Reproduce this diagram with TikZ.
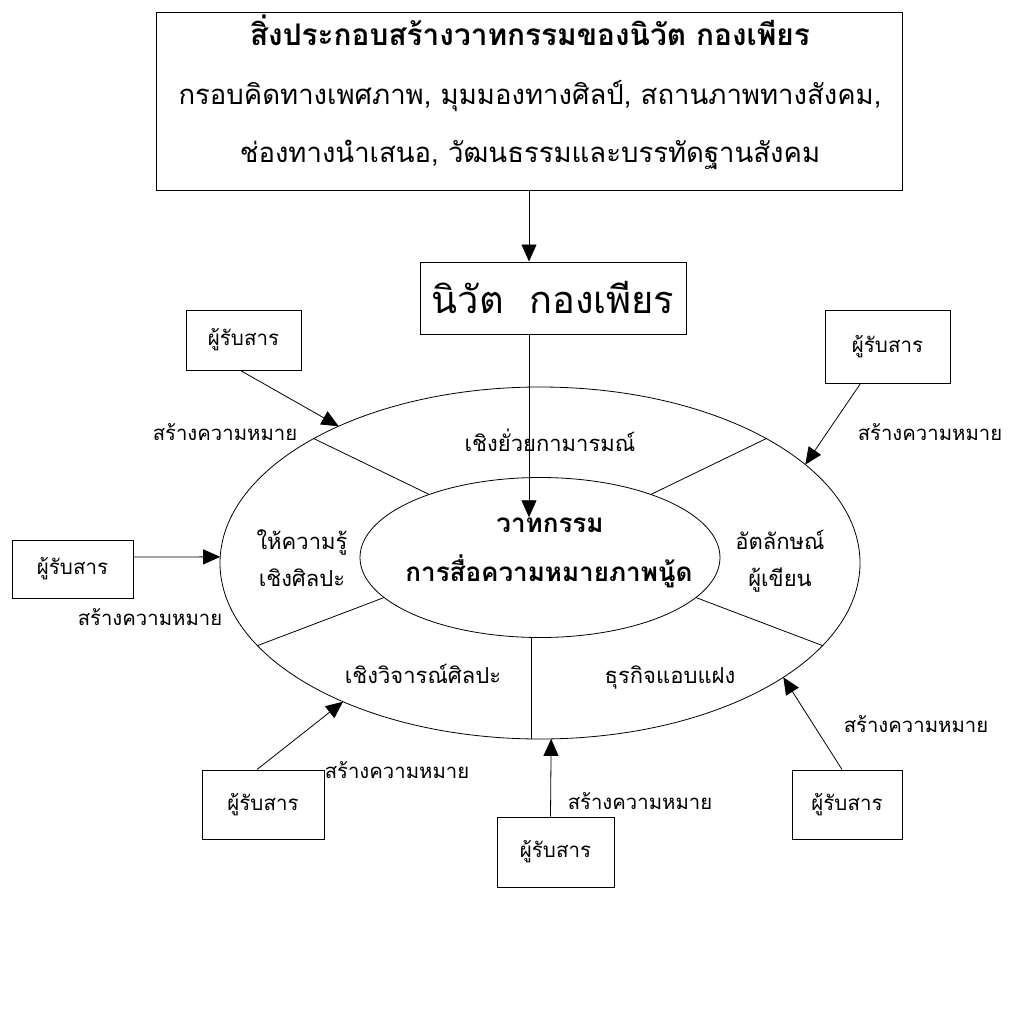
\documentclass[tikz,border=0pt]{standalone}
\usepackage{fontspec}
\setmainfont[Script=Thai]{Loma}
\usetikzlibrary{calc,arrows.meta}

\tikzset{
  box/.style={draw, line width=1pt, inner sep=0pt, font=\fontsize{20.5}{24}\selectfont},
  arr/.style={-{Triangle[length=17pt,width=15pt]}, line width=0.8pt},
  lbl/.style={anchor=mid, inner sep=0pt, yshift=-4.5pt, font=\fontsize{20.3}{24}\selectfont},
  area/.style={anchor=mid, inner sep=0pt, yshift=-5pt, font=\fontsize{22}{26}\selectfont},
  head/.style={anchor=mid, inner sep=0pt, yshift=-6pt, font=\fontsize{27.5}{32}\selectfont},
  core/.style={anchor=mid, inner sep=0pt, yshift=-5.5pt, font=\fontsize{26}{30}\selectfont\bfseries},
  rim/.style={line width=0.8pt}
}

\begin{document}
\begin{tikzpicture}[x=1pt,y=-1pt]
\useasboundingbox (0,0) rectangle (1009,1031);

      % top box: what builds the discourse
      \node[box, minimum width=746pt, minimum height=178pt] (top) at (529,101) {};
      \node[head, font=\fontsize{29.8}{34}\selectfont\bfseries] (t1) at (530,37) {สิ่งประกอบสร้างวาทกรรมของนิวัต กองเพียร};
      \node[head] (t2) at (530,96) {กรอบคิดทางเพศภาพ, มุมมองทางศิลป์, สถานภาพทางสังคม,};
      \node[head] (t3) at (530,154) {ช่องทางนำเสนอ, วัฒนธรรมและบรรทัดฐานสังคม};

      % the author
      \node[box, minimum width=266pt, minimum height=72pt, font=\fontsize{38}{42}\selectfont] (nivat) at (553,298) {นิวัต\ \ กองเพียร};

      % two rings
      \coordinate (oc) at (540,563);
      \coordinate (ic) at (540,557.5);
      \draw[rim] (oc) ellipse [x radius=320, y radius=176];
      \draw[rim] (ic) ellipse [x radius=180, y radius=80];

      % dividers between the rings
      \foreach \a/\b in {225/232, 315/308, 152/150, 28/30}
        \draw[rim] ($(oc)+(\a:320 and 176)$) -- ($(ic)+(\b:180 and 80)$);
      \coordinate (ib) at (531,637);
      \coordinate (ob) at (531,739);
      \draw[rim] (ib) -- (ob);

      % texts in the rings
      \node[area] (s1) at (550,444) {เชิงยั่วยกามารมณ์};
      \node[area] (s2a) at (302,542) {ให้ความรู้};
      \node[area] (s2b) at (302,579) {เชิงศิลปะ};
      \node[area] (s3a) at (780,542) {อัตลักษณ์};
      \node[area] (s3b) at (780,579) {ผู้เขียน};
      \node[area] (s4) at (423,676) {เชิงวิจารณ์ศิลปะ};
      \node[area] (s5) at (670,676) {ธุรกิจแอบแฝง};
      \node[core] (c1) at (550,524) {วาทกรรม};
      \node[core] (c2) at (549,573) {การสื่อความหมายภาพนู้ด};

      \draw[arr] (top.south) -- (top.south |- nivat.north);
      \draw[arr] (top.south |- nivat.south) -- (top.south |- c1.north);

      % receivers round the rings
      \node[box, minimum width=115pt, minimum height=60pt] (r1) at (243.5,340) {ผู้รับสาร};
      \node[box, minimum width=125pt, minimum height=73pt] (r2) at (887.5,346.5) {ผู้รับสาร};
      \node[box, minimum width=121pt, minimum height=58pt] (r3) at (72.5,569) {ผู้รับสาร};
      \node[box, minimum width=122pt, minimum height=69pt] (r4) at (263,804.5) {ผู้รับสาร};
      \node[box, minimum width=117pt, minimum height=70pt] (r5) at (555.5,852) {ผู้รับสาร};
      \node[box, minimum width=110pt, minimum height=69pt] (r6) at (847,804.5) {ผู้รับสาร};

      \coordinate (h1) at ($(oc)+(231:320 and 176)$);
      \coordinate (h2) at ($(oc)+(326:320 and 176)$);
      \coordinate (h3) at ($(oc)+(182:320 and 176)$);
      \coordinate (h4) at ($(oc)+(128:320 and 176)$);
      \coordinate (h5) at ($(oc)+(88:320 and 176)$);
      \coordinate (h6) at ($(oc)+(40.5:320 and 176)$);

      \draw[arr] ([xshift=-3pt]r1.south) -- (h1);
      \draw[arr] ([xshift=-27pt]r2.south) -- (h2);
      \draw[arr] ([yshift=12pt]r3.east) -- (h3);
      \draw[arr] ([xshift=-6pt]r4.north) -- (h4);
      \draw[arr] ([xshift=-5pt]r5.north) -- (h5);
      \draw[arr] ([xshift=-5pt]r6.north) -- (h6);

      \node[lbl] (m1) at (225,433) {สร้างความหมาย};
      \node[lbl] (m2) at (930,433) {สร้างความหมาย};
      \node[lbl] (m3) at (150,618) {สร้างความหมาย};
      \node[lbl] (m4) at (397,771) {สร้างความหมาย};
      \node[lbl] (m5) at (640,802) {สร้างความหมาย};
      \node[lbl] (m6) at (916,725) {สร้างความหมาย};

\end{tikzpicture}
\end{document}
